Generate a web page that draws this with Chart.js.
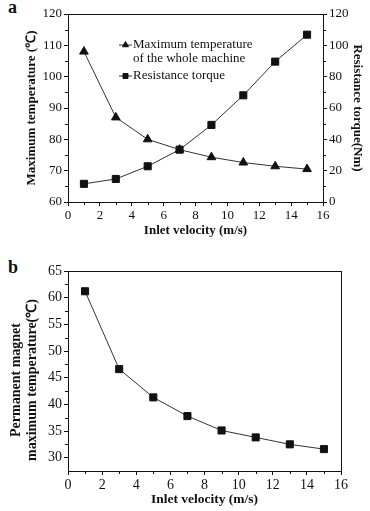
<!DOCTYPE html>
<html>
<head>
<meta charset="utf-8">
<script src="https://cdn.jsdelivr.net/npm/chart.js@4.4.1/dist/chart.umd.min.js"></script>
<style>
  body { margin: 0; background: #fff; }
  #wrap { position: relative; width: 370px; height: 511px; }
  canvas { position: absolute; left: 0; }
  .tag { position: absolute; left: 8px; font: bold 18px "Liberation Serif", serif; color: #111; }
</style>
</head>
<body>
<div id="wrap">
  <div class="tag" style="top:-3px">a</div>
  <canvas id="chartA" width="370" height="248" style="top:0"></canvas>
  <div class="tag" style="top:257px">b</div>
  <canvas id="chartB" width="370" height="263" style="top:248px"></canvas>
</div>
<script>
// data
const velocity = [1, 3, 5, 7, 9, 11, 13, 15];
const machineTemp = [108, 87, 80, 76.7, 74.3, 72.6, 71.4, 70.5];
const torque = [11.6, 14.7, 22.8, 33.4, 49.2, 68.1, 89.6, 106.8];
const magnetTemp = [61.2, 46.6, 41.3, 37.8, 35.1, 33.8, 32.5, 31.6];

const xTicks = [0, 2, 4, 6, 8, 10, 12, 14, 16];
const tempTicksA = [60, 70, 80, 90, 100, 110, 120];
const torqueTicks = [0, 20, 40, 60, 80, 100, 120];
const tempTicksB = [30, 35, 40, 45, 50, 55, 60, 65];

const ink = "#111";
Chart.defaults.font.family = "'Liberation Serif', serif";
Chart.defaults.color = ink;

function pts(ys) {
  return velocity.map((v, i) => ({ x: v, y: ys[i] }));
}
function useTicks(list) {
  return function (scale) {
    scale.ticks = list.map(v => ({ value: v }));
  };
}

// box around the plot + minor ticks halfway between labelled ticks
const frame = {
  id: "frame",
  afterDraw(chart) {
    const { ctx, chartArea: a } = chart;
    ctx.save();
    ctx.strokeStyle = ink;
    ctx.lineWidth = 1;
    ctx.strokeRect(Math.round(a.left) + 0.5, Math.round(a.top) + 0.5,
      Math.round(a.right - a.left), Math.round(a.bottom - a.top));
    ctx.beginPath();
    Object.values(chart.scales).forEach(s => {
      const t = s.ticks;
      for (let i = 0; i < t.length - 1; i++) {
        const p = Math.round(s.getPixelForValue((t[i].value + t[i + 1].value) / 2)) + 0.5;
        if (s.position === "bottom") {
          ctx.moveTo(p, a.bottom); ctx.lineTo(p, a.bottom + 3);
        } else if (s.position === "left") {
          ctx.moveTo(a.left, p); ctx.lineTo(a.left - 3, p);
        } else {
          ctx.moveTo(a.right, p); ctx.lineTo(a.right + 3, p);
        }
      }
    });
    ctx.stroke();
    ctx.restore();
  }
};

// two-line rotated y title of chart b, sits a bit below the plot middle
const sideTitle = {
  id: "sideTitle",
  afterDraw(chart, args, opts) {
    if (!opts.lines) return;
    const { ctx, chartArea: a } = chart;
    ctx.save();
    ctx.font = "bold " + opts.size + "px 'Liberation Serif', serif";
    ctx.fillStyle = ink;
    ctx.textAlign = "center";
    ctx.textBaseline = "middle";
    opts.lines.forEach((txt, k) => {
      ctx.save();
      ctx.translate(opts.x + k * opts.gap, (a.top + a.bottom) / 2 + opts.shift);
      ctx.rotate(-Math.PI / 2);
      ctx.fillText(txt, 0, 0);
      ctx.restore();
    });
    ctx.restore();
  }
};

// legend drawn inside the plot of chart a
const innerLegend = {
  id: "innerLegend",
  afterDatasetsDraw(chart) {
    const { ctx, chartArea: a } = chart;
    const rows = [
      { ds: 0, lines: ["Maximum temperature", "of the whole machine"] },
      { ds: 1, lines: ["Resistance torque"] }
    ];
    let y = a.top + 31;
    ctx.save();
    ctx.font = "13px 'Liberation Serif', serif";
    ctx.textBaseline = "middle";
    ctx.fillStyle = ink;
    rows.forEach(r => {
      const ds = chart.data.datasets[r.ds];
      const x = a.left + 51;
      ctx.strokeStyle = ds.borderColor;
      ctx.lineWidth = 1;
      ctx.beginPath();
      ctx.moveTo(x, y); ctx.lineTo(x + 13, y);
      ctx.stroke();
      ctx.fillStyle = ink;
      ctx.strokeStyle = ink;
      Chart.helpers.drawPoint(ctx, { pointStyle: ds.pointStyle, radius: 3.5, rotation: 0, borderWidth: 1 }, x + 6.5, y);
      r.lines.forEach((txt, k) => {
        ctx.fillText(txt, x + 14, y + k * 14);
      });
      y += 14 * r.lines.length + 3;
    });
    ctx.restore();
  }
};

const tickGrid = { drawOnChartArea: false, tickLength: 4, color: ink };
const edge = { display: true, color: ink, width: 1 };

new Chart(document.getElementById("chartA"), {
  type: "line",
  data: {
    datasets: [
      {
        label: "Maximum temperature of the whole machine",
        data: pts(machineTemp),
        yAxisID: "y",
        borderColor: "#333",
        borderWidth: 1,
        pointStyle: "triangle",
        pointRadius: 5,
        pointBackgroundColor: ink,
        pointBorderColor: ink,
        tension: 0
      },
      {
        label: "Resistance torque",
        data: pts(torque),
        yAxisID: "y1",
        borderColor: "#333",
        borderWidth: 1,
        pointStyle: "rect",
        pointRadius: 5,
        pointBackgroundColor: ink,
        pointBorderColor: ink,
        tension: 0
      }
    ]
  },
  options: {
    responsive: false,
    animation: false,
    layout: { padding: { top: 14, left: 0, right: 0, bottom: 0 } },
    plugins: { legend: { display: false }, tooltip: { enabled: false } },
    scales: {
      x: {
        type: "linear",
        min: 0, max: 16,
        afterBuildTicks: useTicks(xTicks),
        afterFit(s) { s.height = 46; },
        grid: tickGrid, border: edge,
        ticks: { font: { size: 13 }, padding: 2, color: ink },
        title: { display: true, text: "Inlet velocity (m/s)", font: { size: 13, weight: "bold" }, padding: { bottom: 10 }, color: ink }
      },
      y: {
        position: "left",
        min: 60, max: 120,
        afterBuildTicks: useTicks(tempTicksA),
        afterFit(s) { s.width = 68; },
        grid: tickGrid, border: edge,
        ticks: { font: { size: 13 }, padding: 2, color: ink },
        title: { display: true, text: "Maximum temperature (℃)", font: { size: 13, weight: "bold" }, padding: { top: 24 }, color: ink }
      },
      y1: {
        position: "right",
        min: 0, max: 120,
        afterBuildTicks: useTicks(torqueTicks),
        afterFit(s) { s.width = 47; },
        grid: tickGrid, border: edge,
        ticks: { font: { size: 13 }, padding: 2, color: ink },
        title: { display: true, text: "Resistance torque(Nm)", font: { size: 13, weight: "bold" }, padding: { top: 5 }, color: ink }
      }
    }
  },
  plugins: [frame, innerLegend]
});

new Chart(document.getElementById("chartB"), {
  type: "line",
  data: {
    datasets: [
      {
        label: "Permanent magnet maximum temperature",
        data: pts(magnetTemp),
        borderColor: "#333",
        borderWidth: 1,
        pointStyle: "rect",
        pointRadius: 5,
        pointBackgroundColor: ink,
        pointBorderColor: ink,
        tension: 0
      }
    ]
  },
  options: {
    responsive: false,
    animation: false,
    layout: { padding: { top: 23, left: 0, right: 29, bottom: 0 } },
    plugins: {
      legend: { display: false },
      tooltip: { enabled: false },
      sideTitle: { lines: ["Permanent magnet", "maximum temperature(℃)"], size: 14, x: 16, gap: 16, shift: 9 }
    },
    scales: {
      x: {
        type: "linear",
        min: 0, max: 16,
        afterBuildTicks: useTicks(xTicks),
        afterFit(s) { s.height = 40; },
        grid: tickGrid, border: edge,
        ticks: { font: { size: 14 }, padding: 2, color: ink },
        title: { display: true, text: "Inlet velocity (m/s)", font: { size: 13.5, weight: "bold" }, padding: { bottom: 3 }, color: ink }
      },
      y: {
        min: 27.5, max: 65,
        afterBuildTicks: useTicks(tempTicksB),
        afterFit(s) { s.width = 68; },
        grid: tickGrid, border: edge,
        ticks: { font: { size: 14 }, padding: 2, color: ink },
        title: { display: false }
      }
    }
  },
  plugins: [frame, sideTitle]
});
</script>
</body>
</html>
